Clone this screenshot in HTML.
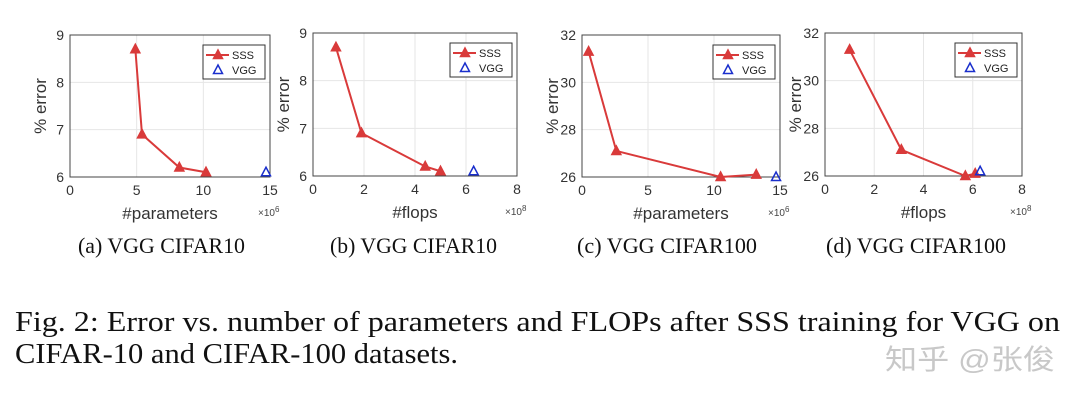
<!DOCTYPE html>
<html><head><meta charset="utf-8"><style>
html,body{margin:0;padding:0;background:#fff;width:1080px;height:400px;overflow:hidden}
svg{display:block}
.sf{font-family:"Liberation Serif","Times New Roman",serif}
.cj{font-family:"Liberation Sans","Noto Sans CJK SC",sans-serif}
</style></head><body>
<svg id="s" width="1080" height="400" xmlns="http://www.w3.org/2000/svg" style="font-family:'Liberation Sans',sans-serif"></svg>
<script>
const S=document.getElementById('s');let h='';
const P=[
 {x0:70,x1:270,y0:35,y1:177,xm:15,xt:[0,5,10,15],yt:[6,7,8,9],ymin:6,ymax:9,xl:'#parameters',ex:'6',
  d:[[4.9,8.7],[5.4,6.9],[8.2,6.2],[10.2,6.1]],v:[14.7,6.1],cap:'(a)  VGG CIFAR10',cx:78,cw:167},
 {x0:313,x1:517,y0:33,y1:176,xm:8,xt:[0,2,4,6,8],yt:[6,7,8,9],ymin:6,ymax:9,xl:'#flops',ex:'8',
  d:[[0.9,8.7],[1.9,6.9],[4.4,6.2],[5.0,6.1]],v:[6.3,6.1],cap:'(b)  VGG CIFAR10',cx:330,cw:167},
 {x0:582,x1:780,y0:35,y1:177,xm:15,xt:[0,5,10,15],yt:[26,28,30,32],ymin:26,ymax:32,xl:'#parameters',ex:'6',
  d:[[0.5,31.3],[2.6,27.1],[10.5,26],[13.2,26.1]],v:[14.7,26],cap:'(c)  VGG CIFAR100',cx:577,cw:180},
 {x0:825,x1:1022,y0:33,y1:176,xm:8,xt:[0,2,4,6,8],yt:[26,28,30,32],ymin:26,ymax:32,xl:'#flops',ex:'8',
  d:[[1.0,31.3],[3.1,27.1],[5.7,26],[6.1,26.1]],v:[6.3,26.2],cap:'(d)  VGG CIFAR100',cx:826,cw:180}];
function tri(x,y,f,s){return `<polygon points="${x},${y-5} ${x-4.5},${y+3.5} ${x+4.5},${y+3.5}" fill="${f}" stroke="${s}" stroke-width="1.5"/>`}
P.forEach(p=>{
 const X=v=>p.x0+(p.x1-p.x0)*v/p.xm, Y=v=>p.y1-(p.y1-p.y0)*(v-p.ymin)/(p.ymax-p.ymin);
 p.xt.forEach(t=>{const x=X(t);h+=`<line x1="${x}" y1="${p.y0}" x2="${x}" y2="${p.y1}" stroke="#e6e6e6"/>`;
  h+=`<text x="${x}" y="${p.y1+18}" font-size="14" fill="#333" text-anchor="middle">${t}</text>`});
 p.yt.forEach(t=>{const y=Y(t);h+=`<line x1="${p.x0}" y1="${y}" x2="${p.x1}" y2="${y}" stroke="#e6e6e6"/>`;
  h+=`<text x="${p.x0-6}" y="${y+5}" font-size="14" fill="#333" text-anchor="end">${t}</text>`});
 h+=`<rect x="${p.x0}" y="${p.y0}" width="${p.x1-p.x0}" height="${p.y1-p.y0}" fill="none" stroke="#444" stroke-width="1"/>`;
 h+=`<polyline points="${p.d.map(q=>X(q[0])+','+Y(q[1])).join(' ')}" fill="none" stroke="#d93a3a" stroke-width="2"/>`;
 p.d.forEach(q=>h+=tri(X(q[0]),Y(q[1]),'#d93a3a','#d93a3a'));
 h+=tri(X(p.v[0]),Y(p.v[1]),'none','#1a2fcc');
 const lx=p.x1-67,ly=p.y0+10;
 h+=`<rect x="${lx}" y="${ly}" width="62" height="34" fill="#fff" stroke="#333"/>`;
 h+=`<line x1="${lx+3}" y1="${ly+10}" x2="${lx+26}" y2="${ly+10}" stroke="#d93a3a" stroke-width="2"/>`+tri(lx+15,ly+10,'#d93a3a','#d93a3a');
 h+=`<text x="${lx+29}" y="${ly+14}" font-size="11" fill="#222">SSS</text>`;
 h+=tri(lx+15,ly+25,'none','#1a2fcc')+`<text x="${lx+29}" y="${ly+29}" font-size="11" fill="#222">VGG</text>`;
 const mx=(p.x0+p.x1)/2;
 h+=`<text x="${mx}" y="${p.y1+42}" font-size="17" fill="#333" text-anchor="middle">${p.xl}</text>`;
 h+=`<text x="${p.x1-12}" y="${p.y1+39}" font-size="10" fill="#444">×10<tspan dy="-4" font-size="8">${p.ex}</tspan></text>`;
 h+=`<text transform="translate(${p.x0-24},${(p.y0+p.y1)/2}) rotate(-90)" font-size="17" fill="#333" text-anchor="middle">% error</text>`;
 h+=`<text class="sf" x="${p.cx}" y="253" font-size="22" fill="#111" textLength="${p.cw}" lengthAdjust="spacingAndGlyphs">${p.cap}</text>`;
});
h+=`<text class="sf" x="15" y="331" font-size="28" fill="#111" textLength="1045" lengthAdjust="spacingAndGlyphs">Fig. 2: Error vs. number of parameters and FLOPs after SSS training for VGG on</text>`;
h+=`<text class="sf" x="15" y="363" font-size="28" fill="#111" textLength="443" lengthAdjust="spacingAndGlyphs">CIFAR-10 and CIFAR-100 datasets.</text>`;
h+=`<text class="cj" x="885" y="369" font-size="28" fill="#c8c8c8" textLength="170" lengthAdjust="spacingAndGlyphs">知乎 @张俊</text>`;
S.innerHTML=h;
</script>
</body></html>
